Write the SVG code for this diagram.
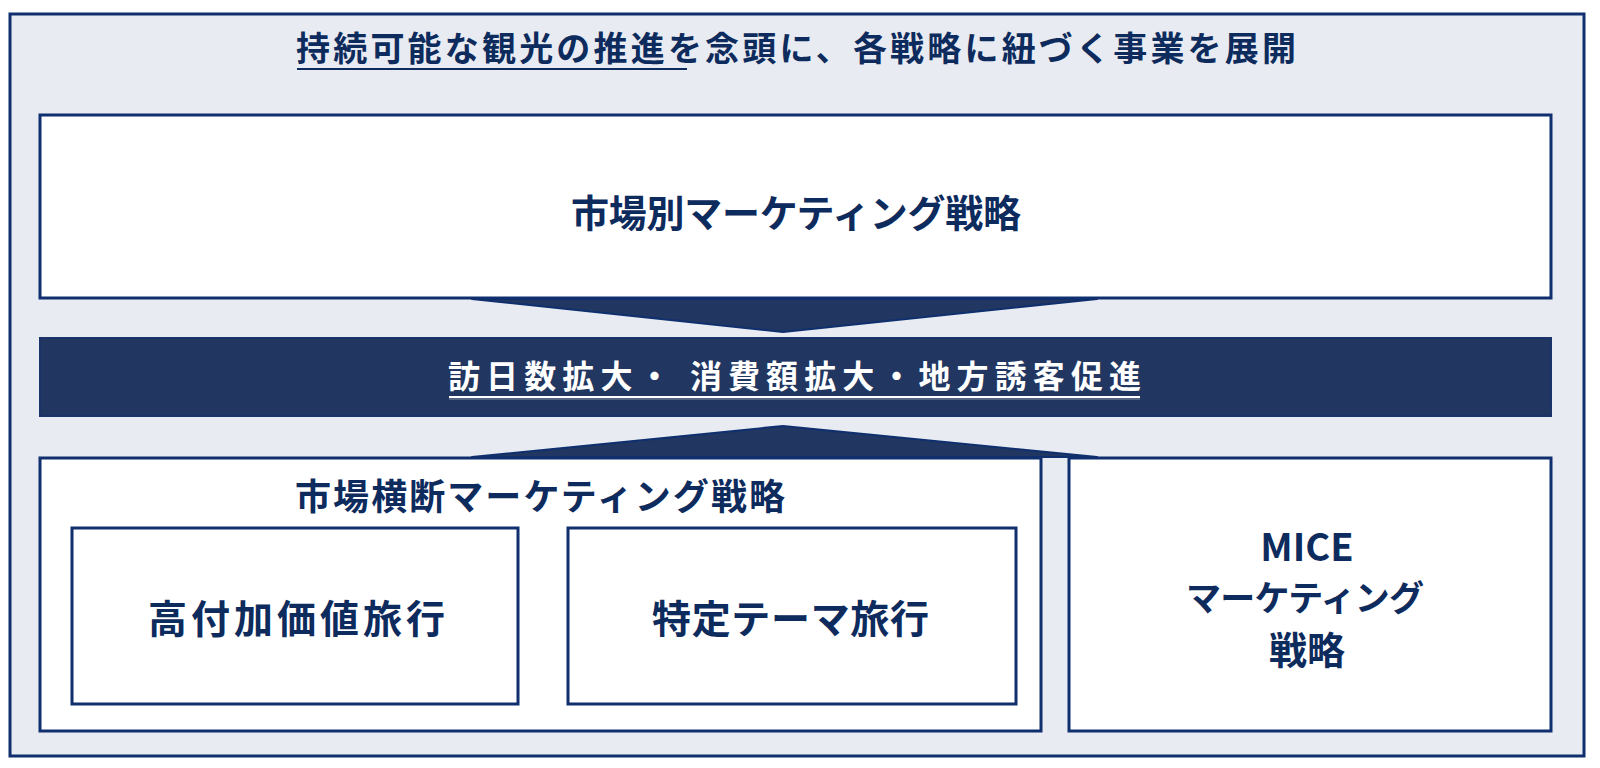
<svg xmlns="http://www.w3.org/2000/svg" width="1600" height="768" viewBox="0 0 1600 768">
<style>
.box{fill:#ffffff;stroke:#0f2f6e;stroke-width:3}
.lbl{font-family:"Noto Sans CJK JP","Noto Sans",sans-serif;font-weight:700;fill:#0e2b5e;dominant-baseline:central}
.wl{font-family:"Noto Sans CJK JP","Noto Sans",sans-serif;font-weight:700;fill:#ffffff;dominant-baseline:central}
.chev{fill:#213761;stroke:#0f2f6e;stroke-width:2;stroke-linejoin:round}
</style>
<rect width="1600" height="768" fill="#ffffff"/>
<g id="frame">
<rect x="10" y="14" width="1574" height="742" fill="#e8ebf1" stroke="#0f2f6e" stroke-width="3"/>
<text class="lbl" x="296" y="46" font-size="34" textLength="1000" lengthAdjust="spacing">持続可能な観光の推進を念頭に、各戦略に紐づく事業を展開</text>
<line x1="297" y1="69" x2="687" y2="69" stroke="#0e2b5e" stroke-width="2"/>
</g>
<g id="connectors">
<polygon class="chev" points="472,299 1097,299 783,332"/>
<polygon class="chev" points="472,457 783,426 1097,457"/>
</g>
<g id="market-strategy">
<rect class="box" x="40" y="115" width="1511" height="183"/>
<text class="lbl" x="571" y="210" font-size="38" textLength="450" lengthAdjust="spacing">市場別マーケティング戦略</text>
</g>
<g id="goal-band">
<rect x="40" y="338" width="1511" height="78" fill="#213761" stroke="#1a3368" stroke-width="2"/>
<text class="wl" x="448" y="374" font-size="32" textLength="693" lengthAdjust="spacing">訪日数拡大・ 消費額拡大・地方誘客促進</text>
<line x1="449" y1="397" x2="1140" y2="397" stroke="#ffffff" stroke-width="2"/>
<line x1="449" y1="399" x2="1140" y2="399" stroke="#8a93a8" stroke-width="1"/>
</g>
<g id="cross-market">
<rect class="box" x="40" y="458" width="1001" height="273"/>
<text class="lbl" x="295" y="494" font-size="36" textLength="490" lengthAdjust="spacing">市場横断マーケティング戦略</text>
</g>
<g id="high-value">
<rect class="box" x="72" y="528" width="446" height="176"/>
<text class="lbl" x="148" y="616" font-size="39" textLength="297" lengthAdjust="spacing">高付加価値旅行</text>
</g>
<g id="theme-travel">
<rect class="box" x="568" y="528" width="448" height="176"/>
<text class="lbl" x="652" y="616" font-size="39" textLength="277" lengthAdjust="spacing">特定テーマ旅行</text>
</g>
<g id="mice">
<rect class="box" x="1069" y="458" width="482" height="273"/>
<text class="lbl" x="1307" y="544" font-size="38" text-anchor="middle">MICE</text>
<text class="lbl" x="1186" y="595" font-size="35" textLength="238" lengthAdjust="spacing">マーケティング</text>
<text class="lbl" x="1307" y="647" font-size="38" text-anchor="middle">戦略</text>
</g>
</svg>
